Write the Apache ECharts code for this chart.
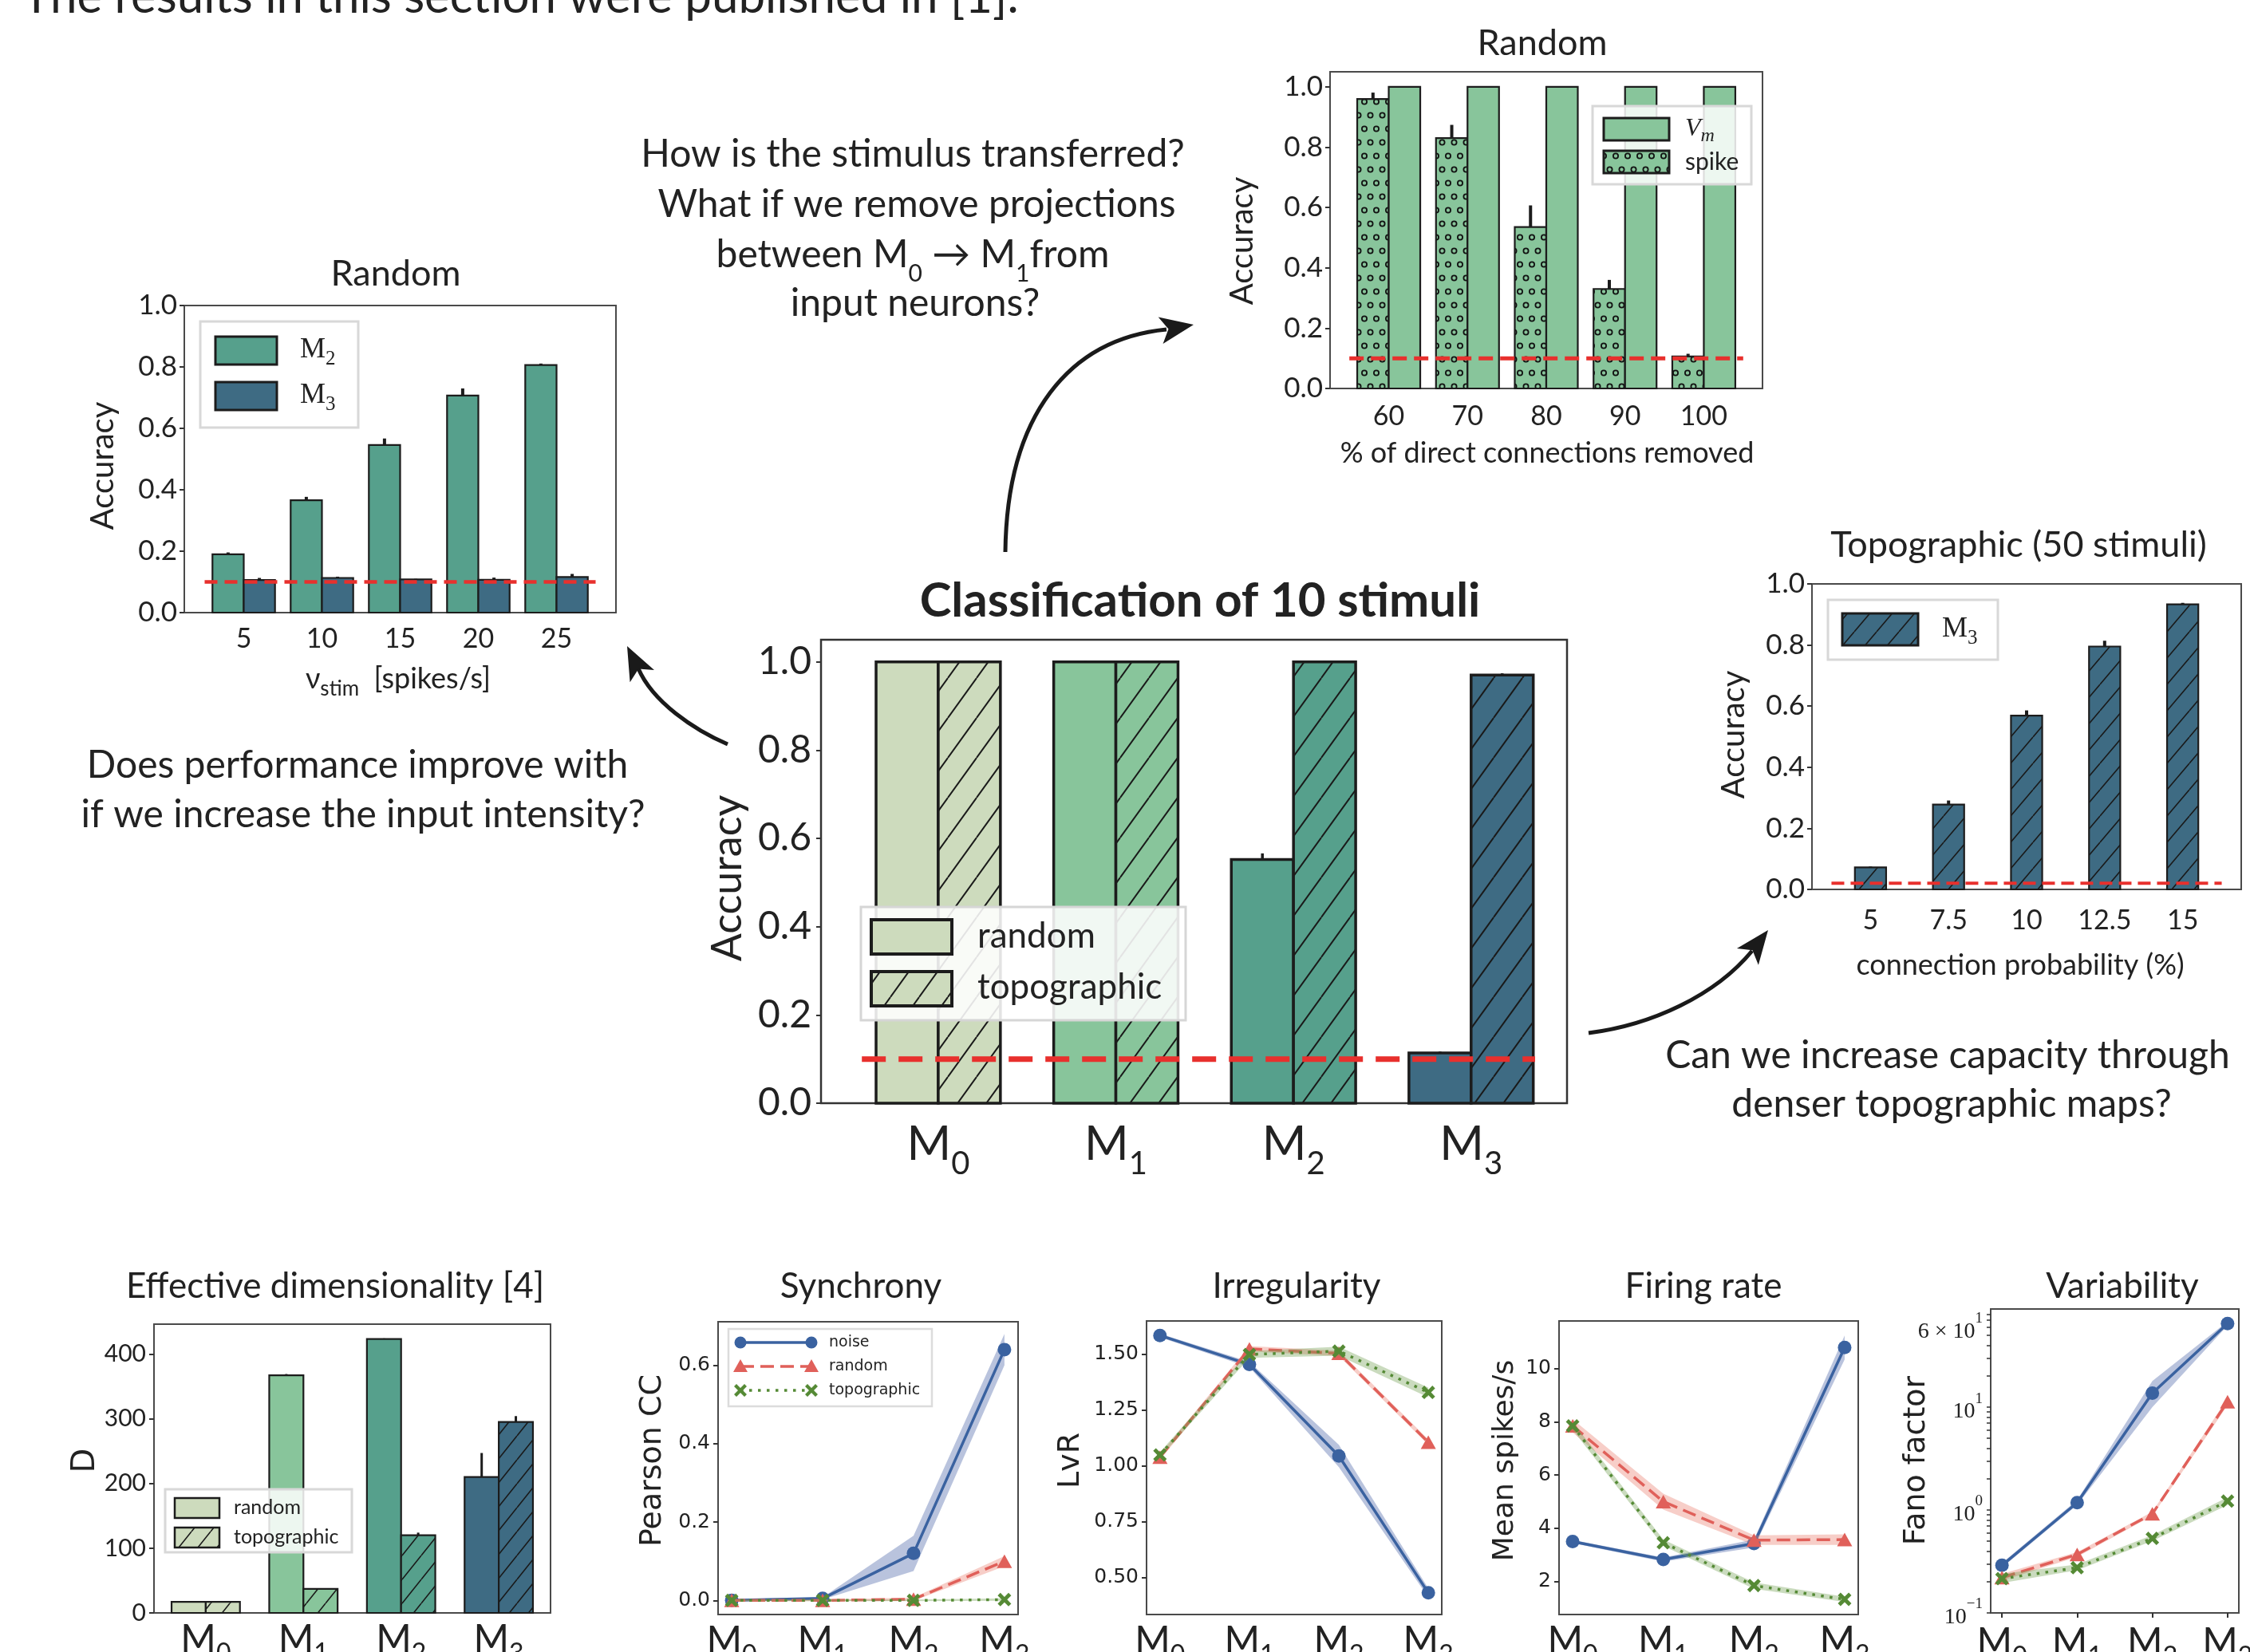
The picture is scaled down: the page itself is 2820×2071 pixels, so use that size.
<!DOCTYPE html>
<html>
<head>
<meta charset="utf-8">
<title>Classification of 10 stimuli</title>
<script src="https://cdn.jsdelivr.net/npm/echarts@6.0.0/dist/echarts.min.js"></script>
<style>
html,body{margin:0;padding:0;background:#ffffff;}
#chart{width:2820px;height:2071px;}
</style>
</head>
<body>
<div id="chart"></div>
<script>
// ---------------- data ----------------
const introText = 'The results in this section were published in [1].';

// Random: input intensity
const rateLabels = ['5', '10', '15', '20', '25'];
const rateAccM2 = [0.19, 0.366, 0.546, 0.707, 0.806];
const rateErrM2 = [0.006, 0.011, 0.021, 0.023, 0.005];
const rateAccM3 = [0.106, 0.113, 0.108, 0.107, 0.116];
const rateErrM3 = [0.007, 0.004, 0.002, 0.007, 0.010];

// Random: removed direct connections
const cutLabels = ['60', '70', '80', '90', '100'];
const cutAccSpike = [0.96, 0.83, 0.535, 0.33, 0.106];
const cutErrSpike = [0.021, 0.044, 0.072, 0.03, 0.009];
const cutAccVm = [1.0, 1.0, 1.0, 1.0, 1.0];
const cutErrVm = [0.002, 0.002, 0.002, 0.002, 0.0];

// Classification of 10 stimuli
const moduleIdx = ['0', '1', '2', '3'];
const clsAccRandom = [1.0, 1.0, 0.552, 0.114];
const clsErrRandom = [0.002, 0.002, 0.014, 0.003];
const clsAccTopo = [1.0, 1.0, 1.0, 0.970];
const clsErrTopo = [0.002, 0.002, 0.002, 0.004];

// Topographic (50 stimuli)
const probLabels = ['5', '7.5', '10', '12.5', '15'];
const probAccM3 = [0.072, 0.278, 0.569, 0.795, 0.933];
const probErrM3 = [0.003, 0.013, 0.017, 0.019, 0.005];

const accTicks = [0, 0.2, 0.4, 0.6, 0.8, 1.0];
const chance10 = 0.1;
const chance50 = 0.02;
const chanceSpan5 = [-0.5, 4.5];
const chanceSpan4 = [-0.43, 3.36];

// Effective dimensionality
const dimRandom = [17, 367, 423, 210];
const dimErrRandom = [0, 2, 1, 37];
const dimTopo = [17, 37, 120, 295];
const dimErrTopo = [0, 1, 4, 9];
const dimTicks = [0, 100, 200, 300, 400];

// Synchrony (Pearson CC)
const syncNoise = [0.0, 0.005, 0.12, 0.64];
const syncNoiseErr = [0.003, 0.003, 0.045, 0.04];
const syncRandom = [0.0, 0.0, 0.003, 0.10];
const syncRandomErr = [0.002, 0.002, 0.004, 0.013];
const syncTopo = [0.0, 0.0, 0.0, 0.002];
const syncTopoErr = [0.002, 0.002, 0.002, 0.003];
const syncTicks = [0, 0.2, 0.4, 0.6];

// Irregularity (LvR)
const lvrNoise = [1.585, 1.455, 1.045, 0.432];
const lvrNoiseErr = [0.008, 0.012, 0.05, 0.02];
const lvrRandom = [1.04, 1.525, 1.505, 1.107];
const lvrRandomErr = [0.012, 0.012, 0.012, 0.012];
const lvrTopo = [1.05, 1.50, 1.515, 1.33];
const lvrTopoErr = [0.012, 0.015, 0.02, 0.022];
const lvrTicks = [0.5, 0.75, 1.0, 1.25, 1.5];

// Firing rate
const frNoise = [3.5, 2.82, 3.42, 10.8];
const frNoiseErr = [0.06, 0.08, 0.15, 0.45];
const frRandom = [7.85, 5.0, 3.55, 3.57];
const frRandomErr = [0.25, 0.3, 0.18, 0.2];
const frTopo = [7.85, 3.45, 1.84, 1.32];
const frTopoErr = [0.15, 0.12, 0.12, 0.1];
const frTicks = [2, 4, 6, 8, 10];

// Variability (Fano factor, log)
const fanoNoise = [0.29, 1.18, 13.7, 65];
const fanoNoiseLo = [0.275, 1.12, 10.0, 62];
const fanoNoiseHi = [0.305, 1.25, 18.0, 68];
const fanoRandom = [0.22, 0.37, 0.92, 11.3];
const fanoRandomLo = [0.205, 0.35, 0.88, 10.4];
const fanoRandomHi = [0.24, 0.39, 0.96, 12.2];
const fanoTopo = [0.215, 0.275, 0.53, 1.22];
const fanoTopoLo = [0.195, 0.26, 0.50, 1.12];
const fanoTopoHi = [0.24, 0.295, 0.57, 1.33];
const fanoTicks = [0.1, 1, 10, 60];
const fanoMinor = [0.1,0.2,0.3,0.4,0.5,0.6,0.7,0.8,0.9,1,2,3,4,5,6,7,8,9,10,20,30,40,50,60,70,80];

const titleTexts = ['Random', 'Random', 'Classification of 10 stimuli', 'Topographic (50 stimuli)',
  'Effective dimensionality [4]', 'Synchrony', 'Irregularity', 'Firing rate', 'Variability'];

// ---------------- style ----------------
const FM = 'Lato, "Open Sans", sans-serif';
const FD = '"DejaVu Sans", sans-serif';
const FS = '"Liberation Serif", "DejaVu Serif", serif';
const INK = '#222222';
const EDGE = '#1c1c1c';
const RED = '#e8302d';
const MC = ['#cddbbd', '#88c59b', '#56a08c', '#3e6b83'];
const BLUE = '#3a62a0', LRED = '#e0605a', GREEN = '#558a35';

function mkHatch(bg, w, h, lw) {
  const c = document.createElement('canvas'); c.width = w; c.height = h;
  const g = c.getContext('2d');
  g.fillStyle = bg; g.fillRect(0, 0, w, h);
  g.strokeStyle = '#1a1a1a'; g.lineWidth = lw;
  g.beginPath();
  g.moveTo(0, h); g.lineTo(w, 0);
  g.moveTo(-w, h); g.lineTo(0, 0);
  g.moveTo(w, h); g.lineTo(2 * w, 0);
  g.stroke();
  return {image: c, repeat: 'repeat'};
}
function mkRings(bg, w, h, r, lw) {
  const c = document.createElement('canvas'); c.width = w; c.height = h;
  const g = c.getContext('2d');
  g.fillStyle = bg; g.fillRect(0, 0, w, h);
  g.strokeStyle = '#111'; g.lineWidth = lw;
  const pts = [[w * 0.25, h * 0.25], [w * 0.75, h * 0.25], [0, h * 0.75], [w * 0.5, h * 0.75], [w, h * 0.75]];
  pts.forEach(p => { g.beginPath(); g.arc(p[0], p[1], r, 0, Math.PI * 2); g.stroke(); });
  return {image: c, repeat: 'repeat'};
}
const hatchC = MC.map(c => mkHatch(c, 36, 50, 2));
const hatchE = MC.map(c => mkHatch(c, 24, 30, 1.6));
const hatchD = mkHatch(MC[3], 28, 33, 1.6);
const ringsB = mkRings(MC[1], 30, 34, 3.1, 1.8);

// ---------------- layout ----------------
const grids = [
  {left: 231, top: 383, width: 541, height: 385},
  {left: 1667, top: 90, width: 542, height: 397},
  {left: 1029, top: 802, width: 935, height: 581},
  {left: 2271, top: 732, width: 538, height: 383},
  {left: 193, top: 1660, width: 497, height: 362},
  {left: 900, top: 1657, width: 376, height: 367},
  {left: 1437, top: 1656, width: 370, height: 368},
  {left: 1954, top: 1656, width: 375, height: 368},
  {left: 2495, top: 1641, width: 311, height: 381}
];

const noLine = {show: false, onZero: false};
function catX(gi, min, max, labels, fontSize, margin) {
  const vals = labels.map((_, i) => i);
  return {
    type: 'value', gridIndex: gi, min: min, max: max,
    axisLine: noLine, splitLine: {show: false}, axisTick: {show: false},
    axisLabel: {customValues: vals, formatter: v => labels[Math.round(v)], fontSize: fontSize,
      fontFamily: FM, color: INK, margin: margin}
  };
}
// subscript rich: main token top-aligned, subscript bottom-aligned in a taller line
function subRich(font, mSize, sSize, L, color, italic) {
  const st = italic ? 'italic' : 'normal';
  return {
    m: {fontFamily: font, fontSize: mSize, lineHeight: mSize, verticalAlign: 'top', color: color, fill: color, fontStyle: st},
    s: {fontFamily: font, fontSize: sSize, lineHeight: L, verticalAlign: 'bottom', color: color, fill: color, fontStyle: st}
  };
}
function modX(gi, min, max, mSize, sSize, L, margin, ticks) {
  const vals = moduleIdx.map((_, i) => i);
  return {
    type: 'value', gridIndex: gi, min: min, max: max,
    axisLine: noLine, splitLine: {show: false},
    axisTick: {show: !!ticks, customValues: vals, length: 6, lineStyle: {color: '#333', width: 2}},
    axisLabel: {customValues: vals, margin: margin, verticalAlign: 'top',
      formatter: v => '{m|M}{s|' + moduleIdx[Math.round(v)] + '}',
      rich: subRich(FM, mSize, sSize, L, INK)}
  };
}
function tickY(gi, min, max, ticks, fmt, font, size, margin) {
  return {
    type: 'value', gridIndex: gi, min: min, max: max,
    axisLine: noLine, splitLine: {show: false},
    axisTick: {show: true, customValues: ticks, length: 6, lineStyle: {color: '#333', width: 2}},
    axisLabel: {customValues: ticks, formatter: fmt, fontSize: size, fontFamily: font, color: INK, margin: margin}
  };
}

function bars(ai, vals, errs, off, bw, fill, lw, ew) {
  return {
    type: 'custom', xAxisIndex: ai, yAxisIndex: ai, z: 3, clip: false, silent: true,
    data: vals.map((v, i) => [i, v, errs[i]]),
    encode: {x: 0, y: 1},
    renderItem: function (params, api) {
      const i = api.value(0), v = api.value(1), e = api.value(2);
      const a = api.coord([i + off - bw / 2, v]);
      const b = api.coord([i + off + bw / 2, 0]);
      const f = Array.isArray(fill) ? fill[i] : fill;
      const kids = [{type: 'rect', shape: {x: a[0], y: a[1], width: b[0] - a[0], height: b[1] - a[1]},
        style: {fill: f, stroke: EDGE, lineWidth: lw}}];
      if (e > 0) {
        const p = api.coord([i + off, v]), q = api.coord([i + off, v + e]);
        kids.push({type: 'line', shape: {x1: p[0], y1: p[1], x2: q[0], y2: q[1]},
          style: {stroke: EDGE, lineWidth: ew}});
      }
      return {type: 'group', children: kids};
    }
  };
}
function chance(ai, span, y, w, dash) {
  return {type: 'line', xAxisIndex: ai, yAxisIndex: ai, z: 6, silent: true, symbol: 'none',
    data: [[span[0], y], [span[1], y]], lineStyle: {color: RED, width: w, type: dash}};
}
function band(ai, lo, hi, color, z) {
  return {
    type: 'custom', xAxisIndex: ai, yAxisIndex: ai, z: z, silent: true, clip: true,
    data: lo.map((l, i) => [i, l, hi[i]]),
    encode: {x: 0, y: [1, 2]},
    renderItem: function (params, api) {
      if (params.dataIndex !== 0) return null;
      const n = params.dataInsideLength;
      const top = [], bot = [];
      for (let j = 0; j < n; j++) {
        const x = api.value(0, j);
        top.push(api.coord([x, api.value(2, j)]));
        bot.unshift(api.coord([x, api.value(1, j)]));
      }
      return {type: 'polygon', shape: {points: top.concat(bot)}, style: {fill: color}};
    }
  };
}
const XSYM = 'path://M2,0 L5,3 L8,0 L10,2 L7,5 L10,8 L8,10 L5,7 L2,10 L0,8 L3,5 L0,2 Z';
const LSTY = {
  noise: {color: BLUE, symbol: 'circle', size: 17, dash: 'solid', band: 'rgba(70,98,165,0.38)'},
  random: {color: LRED, symbol: 'triangle', size: [19, 17], dash: [17, 8], band: 'rgba(234,125,110,0.38)'},
  topo: {color: GREEN, symbol: XSYM, size: 17, dash: [3.5, 7.5], band: 'rgba(115,160,85,0.38)'}
};
function trend(ai, vals, st, z) {
  return {type: 'line', xAxisIndex: ai, yAxisIndex: ai, z: z, silent: true,
    data: vals.map((v, i) => [i, v]), symbol: st.symbol, symbolSize: st.size, showSymbol: true,
    lineStyle: {color: st.color, width: 3.5, type: st.dash}, itemStyle: {color: st.color, borderWidth: 0}};
}
function trio(ai, n, nLo, nHi, r, rLo, rHi, t, tLo, tHi) {
  return [
    band(ai, nLo, nHi, LSTY.noise.band, 2), trend(ai, n, LSTY.noise, 4),
    band(ai, rLo, rHi, LSTY.random.band, 5), trend(ai, r, LSTY.random, 6),
    band(ai, tLo, tHi, LSTY.topo.band, 7), trend(ai, t, LSTY.topo, 8)
  ];
}
const minus = (a, e) => a.map((v, i) => v - e[i]);
const plus = (a, e) => a.map((v, i) => v + e[i]);

// ---------------- axes ----------------
const xAxis = [
  catX(0, -0.76, 4.76, rateLabels, 34, 16),
  catX(1, -0.745, 4.745, cutLabels, 34, 18),
  modX(2, -0.66, 3.54, 60, 40, 74, 22, false),
  catX(3, -0.75, 4.75, probLabels, 34, 22),
  modX(4, -0.53, 3.53, 48, 32, 57, 10, false),
  modX(5, -0.15, 3.15, 48, 32, 57, 10, false),
  modX(6, -0.15, 3.15, 48, 32, 57, 10, false),
  modX(7, -0.15, 3.15, 48, 32, 57, 10, false),
  modX(8, -0.15, 3.15, 48, 32, 57, 14, true)
];
const f1 = v => v.toFixed(1);
const yAxis = [
  tickY(0, 0, 1, accTicks, f1, FM, 35, 9),
  tickY(1, 0, 1.05, accTicks, f1, FM, 35, 9),
  tickY(2, 0, 1.05, accTicks, f1, FM, 48, 12),
  tickY(3, 0, 1.0, accTicks, f1, FM, 35, 9),
  tickY(4, 0, 446, dimTicks, v => String(v), FM, 30, 10),
  tickY(5, -0.036, 0.711, syncTicks, v => v.toFixed(1), FD, 25, 10),
  tickY(6, 0.335, 1.65, lvrTicks, v => v.toFixed(2), FD, 25, 10),
  tickY(7, 0.75, 11.8, frTicks, v => String(Math.round(v)), FD, 25, 10),
  {
    type: 'log', logBase: 10, gridIndex: 8, min: 0.0999, max: 90,
    axisLine: noLine, splitLine: {show: false}, minorTick: {show: false},
    axisTick: {show: true, customValues: fanoMinor, length: 5, lineStyle: {color: '#333', width: 1.5}},
    axisLabel: {customValues: fanoTicks, margin: 10,
      formatter: function (v) {
        if (Math.abs(v - 60) < 1) return '{b|6 × 10}{s|1}';
        const e = Math.round(Math.log10(v));
        return '{b|10}{s|' + (e < 0 ? '−' + (-e) : e) + '}';
      },
      rich: {
        b: {fontFamily: FS, fontSize: 28, lineHeight: 40, verticalAlign: 'bottom', color: INK},
        s: {fontFamily: FS, fontSize: 19, lineHeight: 19, verticalAlign: 'top', color: INK}
      }}
  }
];

// ---------------- series ----------------
const series = [
  bars(0, rateAccM2, rateErrM2, -0.2, 0.4, MC[2], 2.2, 4),
  bars(0, rateAccM3, rateErrM3, 0.2, 0.4, MC[3], 2.2, 4),
  chance(0, chanceSpan5, chance10, 4.5, [16, 9]),

  bars(1, cutAccSpike, cutErrSpike, -0.2, 0.4, ringsB, 2.2, 4),
  bars(1, cutAccVm, cutErrVm, 0.2, 0.4, MC[1], 2.2, 2),
  chance(1, chanceSpan5, chance10, 5, [18, 9]),

  bars(2, clsAccRandom, clsErrRandom, -0.175, 0.35, MC, 3.5, 3.5),
  bars(2, clsAccTopo, clsErrTopo, 0.175, 0.35, hatchC, 3.5, 3.5),
  chance(2, chanceSpan4, chance10, 7, [30, 16]),

  bars(3, probAccM3, probErrM3, 0, 0.4, hatchD, 2.2, 4),
  chance(3, chanceSpan5, chance50, 4, [16, 8]),

  bars(4, dimRandom, dimErrRandom, -0.175, 0.35, MC, 2.2, 3),
  bars(4, dimTopo, dimErrTopo, 0.175, 0.35, hatchE, 2.2, 3)
].concat(
  trio(5, syncNoise, minus(syncNoise, syncNoiseErr), plus(syncNoise, syncNoiseErr),
    syncRandom, minus(syncRandom, syncRandomErr), plus(syncRandom, syncRandomErr),
    syncTopo, minus(syncTopo, syncTopoErr), plus(syncTopo, syncTopoErr)),
  trio(6, lvrNoise, minus(lvrNoise, lvrNoiseErr), plus(lvrNoise, lvrNoiseErr),
    lvrRandom, minus(lvrRandom, lvrRandomErr), plus(lvrRandom, lvrRandomErr),
    lvrTopo, minus(lvrTopo, lvrTopoErr), plus(lvrTopo, lvrTopoErr)),
  trio(7, frNoise, minus(frNoise, frNoiseErr), plus(frNoise, frNoiseErr),
    frRandom, minus(frRandom, frRandomErr), plus(frRandom, frRandomErr),
    frTopo, minus(frTopo, frTopoErr), plus(frTopo, frTopoErr)),
  trio(8, fanoNoise, fanoNoiseLo, fanoNoiseHi, fanoRandom, fanoRandomLo, fanoRandomHi,
    fanoTopo, fanoTopoLo, fanoTopoHi)
);

// ---------------- graphic (text, legends, arrows) ----------------
const G = [];
function txt(text, x, y, size, opt) {
  const o = opt || {};
  G.push({type: 'text', x: x, y: y, z: 60, rotation: o.rot || 0,
    style: {text: text, fontSize: size, fontFamily: o.font || FM, fontWeight: o.weight || 'normal',
      fontStyle: o.italic ? 'italic' : 'normal',
      fill: INK, align: o.align || 'center', verticalAlign: o.va || 'middle', rich: o.rich}});
}
function rect(x, y, w, h, fill, stroke, lw) {
  G.push({type: 'rect', z: 55, shape: {x: x, y: y, width: w, height: h},
    style: {fill: fill, stroke: stroke, lineWidth: lw}});
}
function arrow(p0, c1, c2, p3, tip) {
  const dx = tip[0] - p3[0], dy = tip[1] - p3[1], L = Math.hypot(dx, dy);
  const ux = dx / L, uy = dy / L, px = -uy, py = ux;
  const len = 42, hw = 17;
  const bx = tip[0] - ux * len, by = tip[1] - uy * len;
  G.push({type: 'bezierCurve', z: 60, shape: {x1: p0[0], y1: p0[1], cpx1: c1[0], cpy1: c1[1],
    cpx2: c2[0], cpy2: c2[1], x2: p3[0], y2: p3[1]}, style: {stroke: '#1a1a1a', lineWidth: 5, fill: null}});
  G.push({type: 'polygon', z: 60, shape: {points: [tip, [bx + px * hw, by + py * hw],
    [bx + ux * 10, by + uy * 10], [bx - px * hw, by - py * hw]]}, style: {fill: '#1a1a1a'}});
}

// intro line (cut by the top edge)
txt(introText, 28, 27, 60, {align: 'left', va: 'bottom'});

// titles
const titlePos = [[496, 343, 45], [1933, 54, 45], [1504, 754, 60], [2530, 683, 45],
  [420, 1613, 44], [1079, 1613, 44], [1625, 1613, 44], [2135, 1613, 44], [2660, 1613, 44]];
titleTexts.forEach((t, i) => txt(t, titlePos[i][0], titlePos[i][1], titlePos[i][2],
  {weight: i === 2 ? 'bold' : 'normal'}));

// axis titles
const R90 = Math.PI / 2;
txt('Accuracy', 129, 584, 40, {rot: R90});
txt('Accuracy', 1557, 302, 40, {rot: R90});
txt('Accuracy', 912, 1101, 52, {rot: R90});
txt('Accuracy', 2173, 921, 40, {rot: R90});
txt('D', 108, 1831, 40, {rot: R90, font: FD});
txt('Pearson CC', 818, 1831, 38, {rot: R90, font: FD});
txt('LvR', 1342, 1831, 38, {rot: R90, font: FD});
txt('Mean spikes/s', 1887, 1831, 36, {rot: R90, font: FD});
txt('Fano factor', 2402, 1831, 38, {rot: R90, font: FD});
txt('{m|ν}{s|stim}{m|  [spikes/s]}', 499, 855, 36, {rich: subRich(FM, 36, 26, 44, INK)});
txt('% of direct connections removed', 1939, 568, 36);
txt('connection probability (%)', 2532, 1210, 36);

// annotations
txt('How is the stimulus transferred?', 1144, 194, 48);
txt('What if we remove projections', 1149, 257, 48);
txt('{m|between M}{s|0}{m| → M}{s|1}{m|from}', 1144, 327, 48, {rich: subRich(FM, 48, 30, 62, INK)});
txt('input neurons?', 1147, 381, 48);
txt('Does performance improve with', 448, 960, 48);
txt('if we increase the input intensity?', 455, 1022, 48);
txt('Can we increase capacity through', 2441, 1324, 48);
txt('denser topographic maps?', 2446, 1385, 48);

// arrows
arrow([1260, 692], [1262, 520], [1340, 425], [1462, 413], [1496, 407]);
arrow([912, 933], [870, 915], [818, 880], [800, 838], [786, 810]);
arrow([1991, 1295], [2070, 1285], [2150, 1248], [2196, 1192], [2216, 1166]);

// legends
// panel A
rect(251, 403, 198, 133, 'rgba(255,255,255,0.85)', '#d8d8d8', 3);
rect(270, 422, 77, 35, MC[2], EDGE, 3);
rect(270, 479, 77, 35, MC[3], EDGE, 3);
txt('{m|M}{s|2}', 376, 442, 36, {align: 'left', rich: subRich(FS, 36, 25, 42, INK)});
txt('{m|M}{s|3}', 376, 499, 36, {align: 'left', rich: subRich(FS, 36, 25, 42, INK)});
// panel B
rect(1996, 133, 199, 98, 'rgba(255,255,255,0.85)', '#d8d8d8', 3);
rect(2010, 148, 82, 28, MC[1], EDGE, 3);
rect(2010, 189, 82, 28, ringsB, EDGE, 3);
txt('{m|V}{s|m}', 2112, 164, 32, {align: 'left', rich: subRich(FS, 32, 24, 37, INK, true)});
txt('spike', 2112, 203, 30, {align: 'left'});
// central
rect(1079, 1137, 407, 142, 'rgba(255,255,255,0.88)', '#d6d6d6', 3);
rect(1092, 1153, 101, 43, MC[0], EDGE, 4);
rect(1092, 1218, 101, 43, hatchC[0], EDGE, 4);
txt('random', 1225, 1174, 44, {align: 'left'});
txt('topographic', 1225, 1238, 44, {align: 'left'});
// panel D
rect(2291, 752, 213, 75, 'rgba(255,255,255,0.85)', '#d8d8d8', 3);
rect(2309, 769, 95, 40, hatchD, EDGE, 3);
txt('{m|M}{s|3}', 2434, 792, 36, {align: 'left', rich: subRich(FS, 36, 25, 42, INK)});
// effective dimensionality
rect(207, 1867, 234, 79, 'rgba(255,255,255,0.85)', '#d8d8d8', 3);
rect(219, 1878, 56, 25, MC[0], EDGE, 2.5);
rect(219, 1915, 56, 25, hatchE[0], EDGE, 2.5);
txt('random', 293, 1890, 25, {align: 'left'});
txt('topographic', 293, 1927, 25, {align: 'left'});
// synchrony legend
rect(913, 1666, 255, 97, 'rgba(255,255,255,0.85)', '#dcdcdc', 2.5);
const legRows = [['noise', LSTY.noise, 1683], ['random', LSTY.random, 1713], ['topographic', LSTY.topo, 1743]];
legRows.forEach(r => {
  const st = r[1], y = r[2];
  G.push({type: 'line', z: 58, shape: {x1: 928, y1: y, x2: 1017, y2: y},
    style: {stroke: st.color, lineWidth: 3.5, lineDash: st.dash === 'solid' ? null : st.dash}});
  [928, 1017].forEach(x => {
    if (r[0] === 'noise') G.push({type: 'circle', z: 59, shape: {cx: x, cy: y, r: 7.5}, style: {fill: st.color}});
    else if (r[0] === 'random') G.push({type: 'polygon', z: 59, shape: {points: [[x, y - 9], [x + 9, y + 7], [x - 9, y + 7]]}, style: {fill: st.color}});
    else G.push({type: 'polygon', z: 59, shape: {points: [[x-8,y-5],[x-5,y-8],[x,y-3],[x+5,y-8],[x+8,y-5],[x+3,y],[x+8,y+5],[x+5,y+8],[x,y+3],[x-5,y+8],[x-8,y+5],[x-3,y]]}, style: {fill: st.color}});
  });
  txt(r[0], 1039, y, 19, {align: 'left', font: FD});
});

// ---------------- chart ----------------
const chart = echarts.init(document.getElementById('chart'), null, {renderer: 'canvas', width: 2820, height: 2071});
chart.setOption({
  animation: false,
  backgroundColor: '#ffffff',
  textStyle: {fontFamily: FM, color: INK},
  grid: grids.map((g, i) => Object.assign({show: true, borderColor: i === 2 ? '#333' : '#4a4a4a',
    borderWidth: i === 2 ? 2.5 : 2, backgroundColor: 'rgba(0,0,0,0)', containLabel: false,
    outerBoundsMode: 'none'}, g)),
  xAxis: xAxis,
  yAxis: yAxis,
  series: series,
  graphic: {elements: G}
});
</script>
</body>
</html>
